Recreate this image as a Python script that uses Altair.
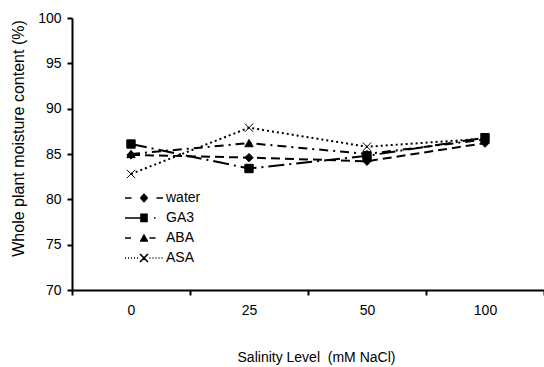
import altair as alt
import pandas as pd

salinity = ["0", "25", "50", "100"]
treatments = ["water", "GA3", "ABA", "ASA"]
water = [84.9, 84.6, 84.2, 86.2]
ga3 = [86.1, 83.4, 84.8, 86.8]
aba = [85.0, 86.2, 85.0, 86.6]
asa = [82.8, 87.9, 85.8, 86.7]

series = {"water": water, "GA3": ga3, "ABA": aba, "ASA": asa}
rows = []
for t in treatments:
    for s, v in zip(salinity, series[t]):
        rows.append({"Salinity": s, "Treatment": t, "Moisture": v})
df = pd.DataFrame(rows)

FONT = "Liberation Sans"

dash_range = [[9, 5], [16, 5, 2, 5], [9, 5, 2, 5], [2, 3]]
X_PATH = "M-1,-1L1,1M-1,1L1,-1"
point_shapes = ["diamond", "square", "triangle-up", X_PATH]

SHIFT = 0.0  # horizontal offset of the legend sample, in symbol units


def seg(a, b, y=0.0):
    return f"M{a + SHIFT:.2f},{y:.2f}L{b + SHIFT:.2f},{y:.2f}"


def dots(a, b, step=0.3):
    out = []
    x = a
    while x < b:
        out.append(seg(x, x + 0.1))
        x += step
    return "".join(out)


def hatch(halfwidth_fn, y0, y1, step=0.1):
    out = []
    y = y0
    while y <= y1 + 1e-9:
        w = halfwidth_fn(y)
        if w > 0.02:
            out.append(seg(-w, w, y))
        y += step
    return "".join(out)


diamond = hatch(lambda y: 0.42 - abs(y) * 0.9, -0.45, 0.45)
square = hatch(lambda y: 0.38, -0.36, 0.36)
triangle = hatch(lambda y: 0.45 * (y + 0.42) / 0.82, -0.40, 0.38)
xmark = (f"M{-0.4 + SHIFT:.2f},-0.4L{0.4 + SHIFT:.2f},0.4"
         f"M{-0.4 + SHIFT:.2f},0.4L{0.4 + SHIFT:.2f},-0.4")

legend_shapes = [
    seg(-1.9, -1.25) + seg(1.25, 1.9) + diamond,
    seg(-1.9, -0.35) + square + seg(1.0, 1.15),
    seg(-1.9, -1.3) + triangle + seg(0.55, 1.15),
    dots(-1.9, -0.5) + xmark + dots(0.55, 1.9),
]

x_enc = alt.X("Salinity:N", sort=salinity,
              scale=alt.Scale(paddingInner=0, paddingOuter=0),
              axis=alt.Axis(title="Salinity Level\u00a0 (mM NaCl)", labelAngle=0,
                            tickBand="extent", labelPadding=8, titlePadding=33,
                            titleX=244, titleAlign="center"))
y_enc = alt.Y("Moisture:Q", scale=alt.Scale(domain=[70, 100], nice=False, zero=False),
              axis=alt.Axis(title="Whole plant moisture content (%)", values=[70, 75, 80, 85, 90, 95, 100],
                            labelPadding=6, titleAngle=270, titleX=-54, titleY=120,
                            titleAlign="center", titleBaseline="middle", titleFontSize=16))

lines = alt.Chart(df).mark_line(color="black", strokeWidth=2).encode(
    x=x_enc, y=y_enc,
    detail="Treatment:N",
    strokeDash=alt.StrokeDash("Treatment:N", scale=alt.Scale(domain=treatments, range=dash_range), legend=None),
)

points = alt.Chart(df).mark_point(filled=True, color="black", stroke="black", strokeWidth=1,
                                  opacity=1, size=70).encode(
    x=x_enc, y=y_enc,
    shape=alt.Shape("Treatment:N", scale=alt.Scale(domain=treatments, range=point_shapes), legend=None),
)

legend_layer = alt.Chart(df).transform_filter("false").mark_point(
    filled=False, color="black", strokeWidth=1.6, opacity=1
).encode(
    x=x_enc, y=y_enc,
    shape=alt.Shape("Treatment:N", scale=alt.Scale(domain=treatments, range=legend_shapes),
                    legend=alt.Legend(title=None, orient="none", legendX=61, legendY=169,
                                      symbolSize=400, symbolStrokeWidth=1.6,
                                      symbolStrokeColor="black",
                                      labelOffset=11, rowPadding=2, labelFontSize=14,
                                      labelFont=FONT, labelColor="black")),
)

chart = alt.layer(lines, points, legend_layer).resolve_scale(shape="independent").properties(
    width=472, height=272,
    background="white",
    autosize=alt.AutoSizeParams(type="none"),
    padding={"left": 72, "top": 18, "right": 0, "bottom": 77},
).configure_view(stroke=None).configure_axis(
    grid=False, domainColor="black", domainWidth=2, tickColor="black", tickWidth=2, tickSize=5,
    labelFont=FONT, labelFontSize=14, labelColor="black",
    titleFont=FONT, titleFontSize=14, titleFontWeight="normal", titleColor="black",
)

chart.save("out.html", embed_options={"renderer": "svg", "actions": False})
